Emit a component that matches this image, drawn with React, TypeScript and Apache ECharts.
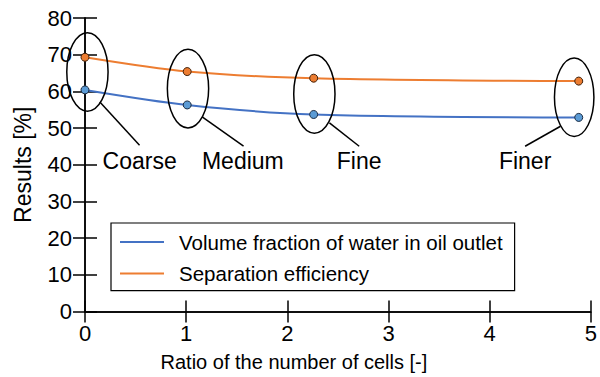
import React, { useEffect, useRef } from "react";
import * as echarts from "echarts";

const FONT = "Liberation Sans, Arial, sans-serif";

const seriesNames = ["Volume fraction of water in oil outlet", "Separation efficiency"];
const ratios = [0, 1.01, 2.26, 4.88];
const volumeFraction = [60.4, 56.3, 53.7, 52.9];
const separationEfficiency = [69.3, 65.4, 63.6, 62.8];

const meshNames = ["Coarse", "Medium", "Fine", "Finer"];
// ellipse: centre x, centre y, radius x, radius y (data units)
const ellipses = [
  [0.024, 65.3, 0.204, 10.7],
  [1.018, 60.75, 0.204, 10.7],
  [2.267, 59.3, 0.204, 10.7],
  [4.835, 58.4, 0.195, 10.7],
];
// leader lines: x1, y1, x2, y2 (data units)
const leaders = [
  [0.147, 57.1, 0.539, 45.3],
  [1.158, 53.05, 1.567, 45.1],
  [2.416, 51.4, 2.71, 45.05],
  [4.7, 50.5, 4.35, 45.05],
];
// label anchors: x, y (data units), index into meshNames
const labelPos = [
  [0.54, 41.0, 0],
  [1.56, 41.0, 1],
  [2.71, 41.0, 2],
  [4.35, 41.0, 3],
];

const BLUE_LINE = "#4472C4";
const BLUE_FILL = "#5B9BD5";
const ORANGE = "#ED7D31";

export default function App() {
  const ref = useRef<HTMLDivElement>(null);
  useEffect(() => {
    if (!ref.current) return;
    const chart = echarts.init(ref.current, undefined, { renderer: "svg" });
    const axisText = { fontSize: 22, color: "#000", fontFamily: FONT };
    chart.setOption({
      animation: false,
      backgroundColor: "#fff",
      grid: { left: 85, right: 5.5, top: 18, bottom: 65.5, containLabel: false },
      legend: {
        data: [
          { name: seriesNames[0], itemStyle: { color: BLUE_LINE, borderWidth: 0 } },
          { name: seriesNames[1], itemStyle: { color: ORANGE, borderWidth: 0 } },
        ],
        orient: "vertical",
        left: 111,
        top: 223,
        icon: "rect",
        itemWidth: 44,
        itemHeight: 2,
        itemGap: 9.6,
        padding: [8, 12, 6, 9],
        borderColor: "#000",
        borderWidth: 1.2,
        backgroundColor: "#fff",
        textStyle: {
          fontSize: 20.5,
          color: "#000",
          fontFamily: FONT,
          lineHeight: 22,
          padding: [0, 0, 0, 10],
        },
      },
      xAxis: [
        {
          type: "value",
          min: 0,
          max: 5,
          interval: 1,
          name: "Ratio of the number of cells [-]",
          nameLocation: "middle",
          nameGap: 40,
          nameTextStyle: { fontSize: 20, color: "#000", fontFamily: FONT, padding: [0, 88, 0, 0] },
          axisLine: { lineStyle: { color: "#000", width: 1.5 } },
          axisTick: { inside: true, length: 11, lineStyle: { color: "#000", width: 1.5 } },
          axisLabel: { ...axisText, margin: 11 },
          splitLine: { show: false },
        },
        {
          type: "value",
          position: "top",
          min: 0,
          max: 5,
          interval: 1,
          axisLine: { show: true, lineStyle: { color: "#000", width: 1.5 } },
          axisTick: { inside: true, length: 11, lineStyle: { color: "#000", width: 1.5 } },
          axisLabel: { show: false },
          splitLine: { show: false },
        },
      ],
      yAxis: [
        {
          type: "value",
          min: 0,
          max: 80,
          interval: 10,
          name: "Results [%]",
          nameLocation: "middle",
          nameGap: 51,
          nameTextStyle: { fontSize: 23, color: "#000", fontFamily: FONT },
          axisLine: { show: true, lineStyle: { color: "#000", width: 1.5 } },
          axisTick: { inside: true, length: 12, lineStyle: { color: "#000", width: 1.5 } },
          axisLabel: { ...axisText, margin: 13 },
          splitLine: { show: false },
        },
        {
          type: "value",
          position: "right",
          min: 0,
          max: 80,
          interval: 10,
          axisLine: { show: true, lineStyle: { color: "#000", width: 1.5 } },
          axisTick: { inside: true, length: 12, lineStyle: { color: "#000", width: 1.5 } },
          axisLabel: { show: false },
          splitLine: { show: false },
        },
      ],
      series: [
        {
          name: seriesNames[0],
          type: "line",
          smooth: 0.3,
          data: ratios.map((x, i) => [x, volumeFraction[i]]),
          symbol: "circle",
          symbolSize: 8,
          lineStyle: { color: BLUE_LINE, width: 2 },
          itemStyle: { color: BLUE_FILL, borderColor: "#1a2a40", borderWidth: 1 },
          z: 3,
        },
        {
          name: seriesNames[1],
          type: "line",
          smooth: 0.3,
          data: ratios.map((x, i) => [x, separationEfficiency[i]]),
          symbol: "circle",
          symbolSize: 8,
          lineStyle: { color: ORANGE, width: 2 },
          itemStyle: { color: ORANGE, borderColor: "#40200a", borderWidth: 1 },
          z: 3,
        },
        {
          type: "custom",
          name: "ellipses",
          data: ellipses,
          silent: true,
          z: 4,
          renderItem: (params: any, api: any) => {
            const c = api.coord([api.value(0), api.value(1)]);
            const s = api.size([api.value(2), api.value(3)]);
            return {
              type: "ellipse",
              shape: { cx: c[0], cy: c[1], rx: s[0], ry: s[1] },
              style: { fill: "none", stroke: "#000", lineWidth: 1.5 },
            };
          },
        },
        {
          type: "custom",
          name: "leaders",
          data: leaders,
          silent: true,
          z: 4,
          renderItem: (params: any, api: any) => {
            const a = api.coord([api.value(0), api.value(1)]);
            const b = api.coord([api.value(2), api.value(3)]);
            return {
              type: "line",
              shape: { x1: a[0], y1: a[1], x2: b[0], y2: b[1] },
              style: { stroke: "#000", lineWidth: 1.5 },
            };
          },
        },
        {
          type: "custom",
          name: "labels",
          data: labelPos,
          silent: true,
          z: 4,
          renderItem: (params: any, api: any) => {
            const p = api.coord([api.value(0), api.value(1)]);
            return {
              type: "text",
              x: p[0],
              y: p[1],
              style: {
                text: meshNames[api.value(2)],
                fill: "#000",
                font: `23px ${FONT}`,
                align: "center",
                verticalAlign: "middle",
              },
            };
          },
        },
      ],
    });
    return () => chart.dispose();
  }, []);
  return <div ref={ref} style={{ width: 600, height: 377, position: "absolute", left: 0, top: 0 }} />;
}
